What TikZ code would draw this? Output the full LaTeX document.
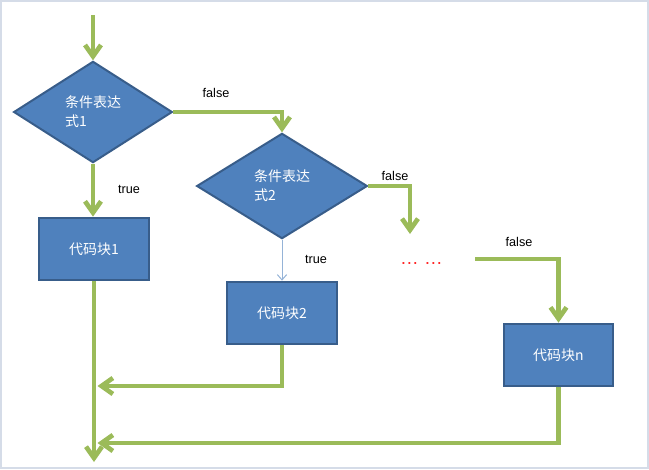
\documentclass[tikz,border=0pt]{standalone}
\usepackage{fontspec}
\setmainfont{Liberation Sans}
\newfontfamily\cjk{Noto Sans CJK SC}
\usetikzlibrary{shapes.geometric,arrows.meta}
\definecolor{boxblue}{HTML}{4F81BD}
\definecolor{boxedge}{HTML}{385D8A}
\definecolor{flowgreen}{HTML}{9BBB59}
\definecolor{thinblue}{HTML}{95B3D7}
\definecolor{framecol}{HTML}{D5DCE8}
\begin{document}
\begin{tikzpicture}[x=0.75pt,y=-0.75pt,
  cond/.style={diamond, fill=boxblue, draw=boxedge, line width=1.5pt, inner sep=0pt,
    text=white, font=\cjk\fontsize{10.5}{14}\selectfont, align=left},
  block/.style={rectangle, fill=boxblue, draw=boxedge, line width=1.5pt, inner sep=0pt,
    minimum width=82pt, minimum height=47pt, text=white, font=\cjk\fontsize{10.5}{14}\selectfont},
  flow/.style={draw=flowgreen, line width=3.5pt, -{Straight Barb[length=8.5pt,width=12pt]}},
  thinflow/.style={draw=thinblue, line width=0.75pt, -{Straight Barb[length=4pt,width=7pt]}},
  lbl/.style={font=\fontsize{9.5}{11}\selectfont, text=black, inner sep=0pt},
  dotstyle/.style={font=\fontsize{14}{14}\selectfont, text=red!85, inner sep=0pt, anchor=base}
]
\useasboundingbox (0,0) rectangle (649,469);
\draw[framecol, line width=1.1pt] (1,1) rectangle (648,468);

\node[cond, minimum width=119pt, minimum height=76pt] (d1) at (93,112) {条件表达\\式1};
\node[cond, minimum width=128pt, minimum height=79pt] (d2) at (282,186) {条件表达\\式2};
\node[block] (b1) at (94,249) {代码块1};
\node[block] (b2) at (282,313) {代码块2};
\node[block] (bn) at (558.5,355) {代码块n};

\coordinate (start) at (93,15);
\coordinate (c1) at (410,234);
\coordinate (c2) at (475,259);
\coordinate (m1) at (97.5,386);
\coordinate (m2) at (97.5,443);
\coordinate (end) at (94,462);

\draw[flow] (start) -- (d1.north);
\draw[flow] (d1.east) -| (d2.north);
\draw[flow] (d1.south) -- (d1.south |- b1.north);
\draw[thinflow] (d2.south) -- (b2.north);
\draw[flow] (d2.east) -| (c1);
\draw[flow] (c2) -| (bn.north);
\draw[flow] (b1.south) -- (end);
\draw[flow] (b2.south) |- (m1);
\draw[flow] (bn.south) |- (m2);

\node[lbl] (f1) at (216,93) {false};
\node[lbl] (t1) at (129,189) {true};
\node[lbl] (f2) at (395,176) {false};
\node[lbl] (t2) at (316,259) {true};
\node[lbl] (f3) at (519,242) {false};
\node[dotstyle] (dots) at (421.5,264) {… …};
\end{tikzpicture}
\end{document}
